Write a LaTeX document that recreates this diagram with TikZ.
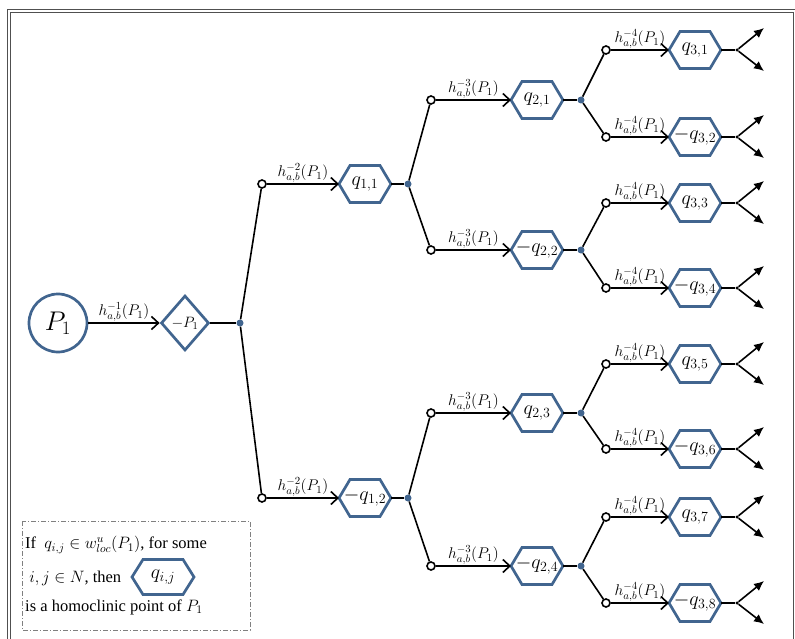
\RequirePackage{fix-cm}
\documentclass[tikz,border=0pt]{standalone}
\usepackage{fontspec}
\setmainfont{Liberation Serif}
\usetikzlibrary{calc,shapes.geometric,arrows.meta}

\definecolor{nodeblue}{HTML}{41658F}
\definecolor{framegray}{HTML}{505050}

\tikzset{
  link/.style={line width=1.6pt, black},
  push/.style={link, -{Straight Barb[length=7pt,width=13pt]}},
  tip/.style={link, -{Latex[length=10pt,width=9pt]}},
  hlabel/.style={midway, above, inner sep=0.5pt, font=\fontsize{15.5}{15.5}\selectfont},
  hexbox/.style={minimum width=52pt, minimum height=37pt, inner sep=0pt, outer sep=0pt,
    font=\fontsize{20}{20}\selectfont},
  hexline/.style={draw=nodeblue, line width=2.7pt, line join=miter},
  startnode/.style={circle, draw=nodeblue, line width=2.7pt, minimum size=58pt, inner sep=0pt,
    font=\fontsize{27}{27}\selectfont},
  flipnode/.style={diamond, draw=nodeblue, line width=2.7pt, minimum width=48pt,
    minimum height=55pt, inner sep=0pt, font=\fontsize{15}{15}\selectfont},
  opendot/.style={circle, draw=black, fill=white, line width=1.6pt, minimum size=8pt, inner sep=0pt},
  junction/.style={circle, fill=nodeblue, minimum size=7pt, inner sep=0pt},
  enddot/.style={circle, fill=black, minimum size=3.5pt, inner sep=0pt},
  legendtext/.style={anchor=west, inner sep=0pt, font=\fontsize{16.5}{16.5}\selectfont},
}

% hexagonal node: [options]{name}{position}{math content}
\newcommand{\hexnode}[4][]{%
  \node[hexbox,#1] (#2) at (#3) {$#4$};
  \draw[hexline] (#2.west) -- ($(#2.north west)+(11,0)$) -- ($(#2.north east)+(-11,0)$)
    -- (#2.east) -- ($(#2.south east)+(-11,0)$) -- ($(#2.south west)+(11,0)$) -- cycle;}

\begin{document}
\begin{tikzpicture}[x=1pt,y=-1pt]
\clip (0,0) rectangle (795,639);
\fill[white] (0,0) rectangle (795,639);

% double page frame
\draw[framegray, line width=0.9pt] (7,9.5) rectangle (830,700);
\draw[framegray, line width=0.9pt] (10,12.5) rectangle (793,700);

% root
\node[startnode] (P1) at (58,323) {$P_1$};
\node[flipnode] (mP1) at (185,323) {$-P_1$};
\node[junction] (j0) at (240,323) {};
\draw[push] (P1) -- node[hlabel]{$h^{-1}_{a,b}(P_1)$} (mP1);
\draw[link] (mP1) -- (j0);

% first generation
\foreach \n/\y/\t in {11/184/{q_{1,1}}, 12/498/{-q_{1,2}}}{
  \node[opendot] (c\n) at (262,\y) {};
  \hexnode{q\n}{365,\y}{\t}
  \node[junction] (j\n) at (408,\y) {};
  \draw[link] (j0) -- (c\n);
  \draw[push] (c\n) -- node[hlabel]{$h^{-2}_{a,b}(P_1)$} (q\n);
  \draw[link] (q\n) -- (j\n);
}

% second generation
\foreach \n/\y/\t/\p in {21/100/{q_{2,1}}/j11, 22/250/{-q_{2,2}}/j11,
                         23/413/{q_{2,3}}/j12, 24/566/{-q_{2,4}}/j12}{
  \node[opendot] (c\n) at (431,\y) {};
  \hexnode{q\n}{537,\y}{\t}
  \node[junction] (j\n) at (581,\y) {};
  \draw[link] (\p) -- (c\n);
  \draw[push] (c\n) -- node[hlabel]{$h^{-3}_{a,b}(P_1)$} (q\n);
  \draw[link] (q\n) -- (j\n);
}

% third generation with outgoing branches
\foreach \n/\y/\t/\p in {31/50/{q_{3,1}}/j21, 32/137/{-q_{3,2}}/j21,
                         33/203/{q_{3,3}}/j22, 34/288/{-q_{3,4}}/j22,
                         35/364/{q_{3,5}}/j23, 36/449/{-q_{3,6}}/j23,
                         37/517/{q_{3,7}}/j24, 38/603/{-q_{3,8}}/j24}{
  \node[opendot] (c\n) at (606,\y) {};
  \hexnode{q\n}{695,\y}{\t}
  \node[enddot] (d\n) at (737,\y) {};
  \coordinate (u\n) at ($(d\n)+(27,-22)$);
  \coordinate (l\n) at ($(d\n)+(27,21)$);
  \draw[link] (\p) -- (c\n);
  \draw[push] (c\n) -- node[hlabel]{$h^{-4}_{a,b}(P_1)$} (q\n);
  \draw[link] (q\n) -- (d\n);
  \draw[tip] (d\n) -- (u\n);
  \draw[tip] (d\n) -- (l\n);
}

% legend
\draw[gray, line width=0.9pt, dash pattern=on 5pt off 2pt on 1pt off 2pt]
  (22,521) rectangle (250,630);
\node[legendtext] (lg1) at (25,545) {If~ $q_{i,j}\in w^{u}_{loc}(P_1)$, for some};
\node[legendtext] (lg2) at (25,578) {~$i,j\in N$, then};
\node[legendtext] (lg3) at (25,607) {is a homoclinic point of $P_1$};
\hexnode[minimum width=62pt, minimum height=35pt]{qij}{163,577}{q_{i,j}}

\end{tikzpicture}
\end{document}
